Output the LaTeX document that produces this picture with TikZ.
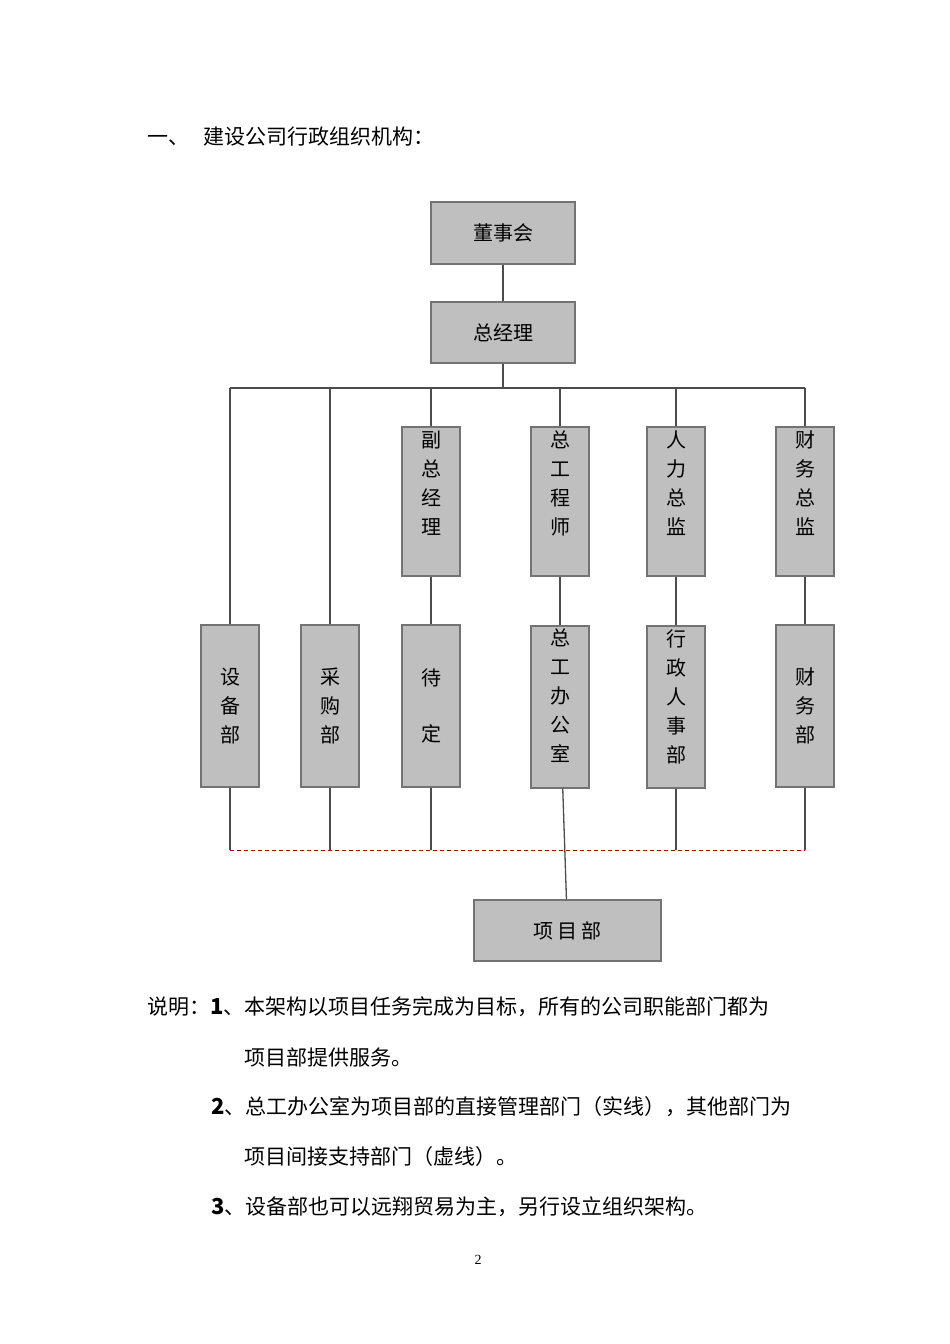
\documentclass[tikz,border=0pt]{standalone}
\usepackage{fontspec}
\newfontfamily\cjk{Noto Sans CJK SC}
\setmainfont{Liberation Serif}
\begin{document}
\begin{tikzpicture}[x=1pt,y=-1pt,
  box/.style={draw=black!55,line width=1.5pt,fill=black!25,inner sep=0pt,font=\cjk\fontsize{20}{29}\selectfont},
  ln/.style={draw=black!70,line width=1.3pt},
  txt/.style={anchor=west,inner sep=0pt,font=\cjk\fontsize{21}{24}\selectfont}]
\useasboundingbox (0,0) rectangle (950,1344);
\def\bx#1#2#3#4#5#6{\node[box,minimum width=#3-#2,minimum height=#5-#4,align=center] (#1) at ({(#2+#3)/2},{(#4+#5)/2}) {#6};}
\bx{dsh}{431}{575}{202}{264}{董事会}
\bx{zjl}{431}{575}{302}{363}{总经理}
\def\tb#1#2#3{\node[box,minimum width=58,minimum height=149,anchor=north] (#1) at (#2,426) {}; \node[anchor=north,font=\cjk\fontsize{20}{29}\selectfont,align=center,inner sep=0pt] at (#2,431) {#3};}
\tb{fz}{431}{副\\总\\经\\理}
\tb{zg}{560}{总\\工\\程\\师}
\tb{rl}{676}{人\\力\\总\\监}
\tb{cw}{805}{财\\务\\总\\监}
\def\lb#1#2#3{\node[box,minimum width=58,minimum height=162,align=center] (#1) at (#2,706) {#3};}
\lb{sb}{230}{设\\备\\部}
\lb{cg}{330}{采\\购\\部}
\lb{dd}{431}{待\\[27pt]定}
\node[box,minimum width=58,minimum height=162,anchor=north] (zb) at (560,625) {};
\node[anchor=north,font=\cjk\fontsize{20}{29}\selectfont,align=center,inner sep=0pt] at (560,629) {总\\工\\办\\公\\室};
\node[box,minimum width=58,minimum height=162,anchor=north] (xz) at (676,625) {};
\node[anchor=north,font=\cjk\fontsize{20}{29}\selectfont,align=center,inner sep=0pt] at (676,629) {行\\政\\人\\事\\部};
\lb{cwb}{805}{财\\务\\部}
\bx{xm}{474}{661}{900}{961}{项\ 目\ 部}
\coordinate (bus) at (503,388);
\coordinate (bl) at (230,388);
\coordinate (br) at (805,388);
\coordinate (dl) at (230,850);
\coordinate (dr) at (805,850);
\draw[ln] (dsh) -- (zjl);
\draw[ln] (zjl) -- (bus);
\draw[ln] (bl) -- (br);
\draw[ln] (bl) -- (sb.north);
\draw[ln] (330,388) -- (cg.north);
\foreach \a/\b in {fz/dd,zg/zb,rl/xz,cw/cwb}{
  \draw[ln] (\a.north |- bus) -- (\a.north);
  \draw[ln] (\a) -- (\b);}
\foreach \a in {sb,cg,dd,xz,cwb}{\draw[ln] (\a.south) -- (\a.south |- dl);}
\draw[ln] (zb) -- (xm);
\draw[red!70!black,line width=1pt,dash pattern=on 4pt off 3pt] (dl) -- (dr);
\node[txt] (t0) at (147,137) {一、\hspace{14pt}建设公司行政组织机构：};
\node[txt] (t1) at (147,1007) {说明：\textbf{\fontsize{22}{24}\selectfont 1}、本架构以项目任务完成为目标，所有的公司职能部门都为};
\node[txt] (t2) at (244,1057) {项目部提供服务。};
\node[txt] (t3) at (211,1107) {\textbf{\fontsize{22}{24}\selectfont 2}、总工办公室为项目部的直接管理部门（实线），其他部门为};
\node[txt] (t4) at (244,1157) {项目间接支持部门（虚线）。};
\node[txt] (t5) at (211,1207) {\textbf{\fontsize{22}{24}\selectfont 3}、设备部也可以远翔贸易为主，另行设立组织架构。};
\node[font=\fontsize{14}{16}\selectfont] (pg) at (478,1260) {2};
\end{tikzpicture}
\end{document}
